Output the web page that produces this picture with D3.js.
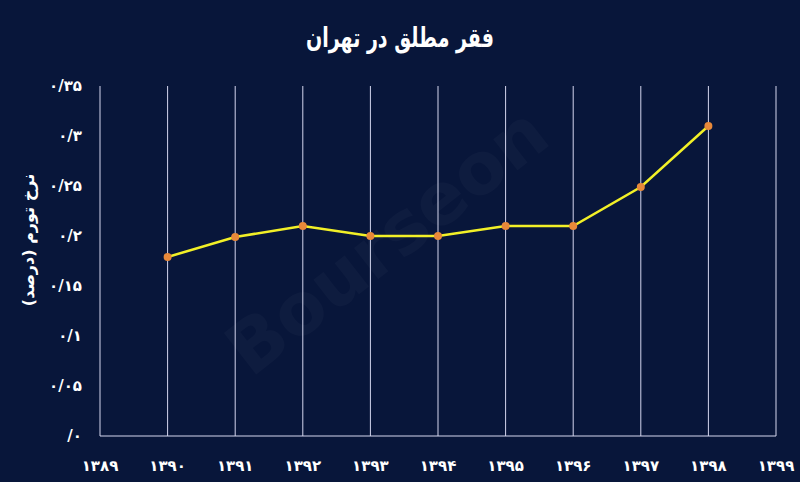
<!DOCTYPE html>
<html><head><meta charset="utf-8">
<script src="https://cdn.jsdelivr.net/npm/d3@7"></script>
<style>html,body{margin:0;padding:0;background:#08163a;}svg{display:block;}</style>
</head><body>
<svg id="c" width="800" height="482"></svg>
<script>
const years = [1389,1390,1391,1392,1393,1394,1395,1396,1397,1398,1399];
const dataYears = [1390,1391,1392,1393,1394,1395,1396,1397,1398];
const values = [0.179,0.199,0.21,0.2,0.2,0.21,0.21,0.249,0.31];
const yTicks = [0,0.05,0.1,0.15,0.2,0.25,0.3,0.35];
const yTickLabels = ["/۰","۰/۰۵","۰/۱","۰/۱۵","۰/۲","۰/۲۵","۰/۳","۰/۳۵"];
const title = "فقر مطلق در تهران";
const yTitle = "نرخ تورم (درصد)";

const fa = d => String(d).replace(/\d/g, c => "۰۱۲۳۴۵۶۷۸۹"[+c]);
const svg = d3.select("#c");
const W=800,H=482;
svg.append("rect").attr("width",W).attr("height",H).attr("fill","#08163a");

const x = d3.scalePoint().domain(years).range([100,776]);
const y = d3.scaleLinear().domain([0,0.35]).range([436,86]);

// watermark
svg.append("text").attr("transform","translate(390,245) rotate(-38)")
  .attr("text-anchor","middle").attr("dominant-baseline","middle")
  .attr("font-family","DejaVu Sans").attr("font-weight","bold").attr("font-size",72)
  .attr("fill","#ffffff").attr("opacity",0.025).text("Bourseon");

// vertical gridlines
svg.append("g").selectAll("line").data(years.slice(1)).join("line")
  .attr("x1",d=>x(d)).attr("x2",d=>x(d)).attr("y1",y(0.35)).attr("y2",y(0))
  .attr("stroke","#d4d6ee").attr("stroke-width",1);
// axis lines
svg.append("line").attr("x1",x(1389)).attr("x2",x(1389)).attr("y1",y(0.35)).attr("y2",y(0))
  .attr("stroke","#d4d6ee").attr("stroke-width",1);
svg.append("line").attr("x1",x(1389)).attr("x2",x(1399)).attr("y1",y(0)).attr("y2",y(0))
  .attr("stroke","#d4d6ee").attr("stroke-width",1);

// y tick labels
svg.append("g").selectAll("text").data(yTicks).join("text")
  .attr("x",82).attr("y",d=>y(d)).attr("dy","0.35em")
  .attr("text-anchor","end").attr("direction","ltr")
  .attr("font-family","DejaVu Sans").attr("font-weight","bold").attr("font-size",15)
  .attr("fill","#ffffff").text((d,i)=>yTickLabels[i]);

// x tick labels
svg.append("g").selectAll("text").data(years).join("text")
  .attr("x",d=>x(d)).attr("y",466).attr("dy","0.35em")
  .attr("text-anchor","middle")
  .attr("font-family","DejaVu Sans").attr("font-weight","bold").attr("font-size",15)
  .attr("fill","#ffffff").text(d=>fa(d));

// title
svg.append("text").attr("x",400).attr("y",38).attr("dy","0.35em")
  .attr("text-anchor","middle").attr("direction","rtl")
  .attr("font-family","DejaVu Sans").attr("font-weight","bold").attr("font-size",27)
  .attr("textLength",188).attr("lengthAdjust","spacingAndGlyphs")
  .attr("fill","#ffffff").text(title);

// y title
svg.append("text").attr("transform","translate(28,240) rotate(-90)").attr("dy","0.35em")
  .attr("text-anchor","middle").attr("direction","rtl")
  .attr("font-family","DejaVu Sans").attr("font-weight","bold").attr("font-size",16)
  .attr("fill","#ffffff").text(yTitle);

// line
const pts = dataYears.map((d,i)=>({yr:d,v:values[i]}));
svg.append("path").datum(pts)
  .attr("d",d3.line().x(d=>x(d.yr)).y(d=>y(d.v)))
  .attr("fill","none").attr("stroke","#f2f027").attr("stroke-width",2.5);
svg.append("g").selectAll("circle").data(pts).join("circle")
  .attr("cx",d=>x(d.yr)).attr("cy",d=>y(d.v)).attr("r",4)
  .attr("fill","#e8893a");
</script>
</body></html>
